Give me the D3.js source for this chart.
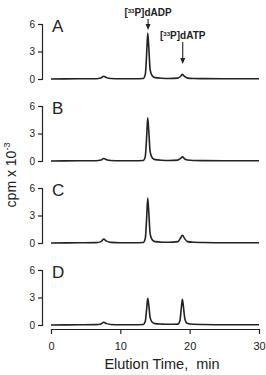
<!DOCTYPE html>
<html>
<head>
<meta charset="utf-8">
<script src="https://cdn.jsdelivr.net/npm/d3@7"></script>
<style>
  body { margin: 0; background: #fff; }
  text { font-family: "Liberation Sans", Arial, sans-serif; fill: #222; }
</style>
</head>
<body>
<svg id="chart" width="266" height="375"></svg>
<script>
// chromatograms: [elution time (min), cpm x 10^-3]
var panelLetters = ['A', 'B', 'C', 'D'];
var traceA = [[0,0],[4,0.02],[6.5,0.03],[7.2,0.1],[7.6,0.3],[8.0,0.15],[8.6,0.05],[10,0.03],[12,0.03],[13.3,0.05],[13.6,0.5],[13.8,2.8],[13.95,5.0],[14.1,3.5],[14.3,1.0],[14.6,0.35],[15,0.15],[16,0.08],[17,0.06],[18.3,0.1],[18.7,0.3],[18.95,0.5],[19.3,0.25],[19.7,0.1],[20.5,0.06],[22,0.04],[25,0.02],[30,0.02]];
var traceB = [[0,0],[4,0.02],[6.5,0.03],[7.2,0.1],[7.6,0.28],[8.0,0.14],[8.6,0.05],[10,0.03],[12,0.03],[13.3,0.05],[13.6,0.5],[13.8,2.7],[13.95,4.7],[14.1,3.3],[14.3,1.0],[14.6,0.35],[15,0.15],[16,0.08],[17,0.06],[18.3,0.1],[18.7,0.28],[18.95,0.45],[19.3,0.22],[19.7,0.1],[20.5,0.05],[22,0.04],[25,0.02],[30,0.02]];
var traceC = [[0,0],[4,0.02],[6.5,0.04],[7.2,0.15],[7.6,0.42],[8.0,0.2],[8.6,0.07],[10,0.03],[12,0.03],[13.3,0.05],[13.6,0.5],[13.8,2.8],[13.95,4.9],[14.1,3.4],[14.3,1.0],[14.6,0.35],[15,0.15],[16,0.09],[17,0.08],[18.3,0.15],[18.65,0.5],[18.95,0.85],[19.3,0.45],[19.7,0.15],[20.5,0.08],[22,0.05],[25,0.02],[30,0.02]];
var traceD = [[0,0],[4,0.02],[6.5,0.04],[7.2,0.12],[7.6,0.3],[8.0,0.15],[8.6,0.06],[10,0.03],[12,0.03],[13.3,0.05],[13.6,0.4],[13.8,1.8],[13.95,2.9],[14.1,2.2],[14.3,0.8],[14.6,0.3],[15,0.15],[16,0.1],[17,0.08],[18.3,0.1],[18.6,0.5],[18.8,1.9],[18.95,2.8],[19.1,2.0],[19.3,0.7],[19.6,0.2],[20.5,0.08],[22,0.05],[25,0.02],[30,0.02]];
var traces = [traceA, traceB, traceC, traceD];
var yTicks = [0, 3, 6];
var xTicks = [0, 10, 20, 30];
var peakNotes = [
  {name: 'dADP', t: 14.0, top: 19, tip: 30},
  {name: 'dATP', t: 19.0, top: 42, tip: 64}
];

var svg = d3.select('#chart');
var ink = '#222';
var fontFam = '"Liberation Sans", Arial, sans-serif';

var x = d3.scaleLinear().domain([0, 30]).range([51, 259]);
var panelBase = [79, 161, 243, 325];

var line = d3.line()
  .x(function(d) { return x(d[0]); })
  .curve(d3.curveMonotoneX);

traces.forEach(function(data, i) {
  var y = d3.scaleLinear().domain([0, 6]).range([panelBase[i], panelBase[i] - 55]);

  var yAxis = svg.append('g')
    .attr('transform', 'translate(42,0)')
    .call(d3.axisLeft(y).tickValues(yTicks).tickFormat(d3.format('d'))
      .tickSize(4).tickPadding(3).tickSizeOuter(4));
  yAxis.select('.domain').attr('stroke', ink).attr('stroke-width', 1.2);
  yAxis.selectAll('.tick line').attr('stroke', ink).attr('stroke-width', 1.2);
  yAxis.selectAll('.tick text').attr('font-size', 10).attr('fill', ink)
    .attr('font-family', fontFam);

  svg.append('path')
    .datum(data)
    .attr('d', line.y(function(d) { return y(d[1]); }))
    .attr('fill', 'none')
    .attr('stroke', ink)
    .attr('stroke-width', 1.6)
    .attr('stroke-linejoin', 'round');

  svg.append('text')
    .attr('x', 52)
    .attr('y', y(6) + 8)
    .attr('font-size', 17)
    .text(panelLetters[i]);
});

// x axis under the last panel
var xAxis = svg.append('g')
  .attr('transform', 'translate(0,329)')
  .call(d3.axisBottom(x).tickValues(xTicks).tickSize(5).tickPadding(8).tickSizeOuter(0));
xAxis.select('.domain').attr('stroke', ink).attr('stroke-width', 1.2);
xAxis.selectAll('.tick line').attr('stroke', ink).attr('stroke-width', 1.2);
xAxis.selectAll('.tick text').attr('font-size', 11).attr('fill', ink)
  .attr('font-family', fontFam);

svg.append('text')
  .attr('x', 162).attr('y', 369)
  .attr('text-anchor', 'middle')
  .attr('font-size', 14.5)
  .attr('xml:space', 'preserve')
  .text('Elution Time,  min');

var yl = svg.append('text')
  .attr('transform', 'translate(16,175) rotate(-90)')
  .attr('text-anchor', 'middle')
  .attr('font-size', 14);
yl.append('tspan').text('cpm x 10');
yl.append('tspan').attr('font-size', 9).attr('dy', -6).text('-3');

// peak annotations with arrows
peakNotes.forEach(function(p) {
  var px = x(p.t);
  var lab = svg.append('text')
    .attr('x', px).attr('y', p.top - 3)
    .attr('text-anchor', 'middle')
    .attr('font-size', 10)
    .attr('font-weight', 'bold');
  lab.append('tspan').text('[');
  lab.append('tspan').attr('font-size', 6).attr('dy', -3).text('33');
  lab.append('tspan').attr('dy', 3).text('P]' + p.name);

  svg.append('line')
    .attr('x1', px).attr('x2', px)
    .attr('y1', p.top).attr('y2', p.tip - 2)
    .attr('stroke', ink).attr('stroke-width', 1.1);
  svg.append('path')
    .attr('d', 'M' + (px - 2.5) + ',' + (p.tip - 6) + 'L' + px + ',' + p.tip + 'L' + (px + 2.5) + ',' + (p.tip - 6) + 'Z')
    .attr('fill', ink);
});
</script>
</body>
</html>
